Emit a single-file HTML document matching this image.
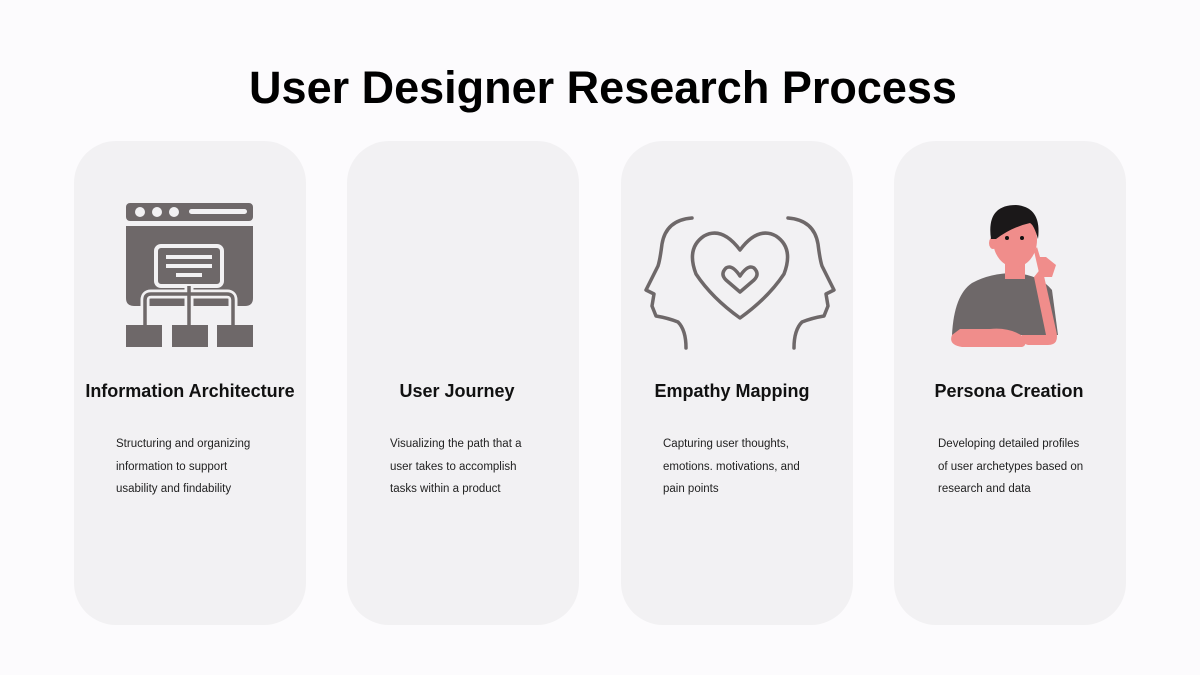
<!DOCTYPE html>
<html><head><meta charset="utf-8"><style>
body{margin:0;width:1200px;height:675px;background:#fcfbfd;font-family:"Liberation Sans",sans-serif;position:relative;overflow:hidden}
h1{position:absolute;top:62px;left:0;width:1206px;text-align:center;margin:0;font-size:45px;font-weight:bold;color:#000;}
.card{position:absolute;top:141px;width:232px;height:484px;background:#f2f1f3;border-radius:42px}
.h{position:absolute;top:381px;width:232px;text-align:center;font-size:18px;font-weight:bold;color:#111}
.t{position:absolute;top:433px;font-size:11.5px;line-height:22.6px;color:#222;white-space:nowrap}
svg{position:absolute}
</style></head><body>
<h1>User Designer Research Process</h1>
<div class="card" style="left:74px"></div>
<div class="card" style="left:347px"></div>
<div class="card" style="left:621px"></div>
<div class="card" style="left:894px"></div>

<svg style="left:110px;top:190px" width="160" height="170" viewBox="0 0 160 170">
<rect x="16" y="13" width="127" height="18" rx="4" fill="#6e6869"/>
<circle cx="30" cy="22" r="5" fill="#f2f1f3"/><circle cx="47" cy="22" r="5" fill="#f2f1f3"/><circle cx="64" cy="22" r="5" fill="#f2f1f3"/>
<rect x="79" y="19" width="58" height="5" rx="2.5" fill="#f2f1f3"/>
<path d="M16 36 H143 V108 Q143 116 135 116 H24 Q16 116 16 108Z" fill="#6e6869"/>
<rect x="46" y="56" width="66" height="40" rx="5" fill="#6e6869" stroke="#f2f1f3" stroke-width="4"/>
<rect x="56" y="65" width="46" height="4" fill="#f2f1f3"/><rect x="56" y="74" width="46" height="4" fill="#f2f1f3"/><rect x="66" y="83" width="26" height="4" fill="#f2f1f3"/>
<path d="M79 96 V135 M35 135 V110 Q35 104 41 104 H117 Q123 104 123 110 V135" stroke="#f2f1f3" stroke-width="9" fill="none"/>
<path d="M79 96 V135 M35 135 V110 Q35 104 41 104 H117 Q123 104 123 110 V135" stroke="#6e6869" stroke-width="3.5" fill="none"/>
<rect x="16" y="135" width="36" height="22" fill="#6e6869"/><rect x="62" y="135" width="36" height="22" fill="#6e6869"/><rect x="107" y="135" width="36" height="22" fill="#6e6869"/>
</svg>

<svg style="left:640px;top:210px" width="200" height="145" viewBox="0 0 200 145" fill="none" stroke="#6e6869" stroke-width="3.5" stroke-linejoin="round" stroke-linecap="round">
<path d="M52 8 Q26 10 22 34 Q20 50 18 56 L6 80 L14 84 L12 96 L16 106 Q28 108 38 112 Q46 120 46 138"/>
<path d="M148 8 Q174 10 178 34 Q180 50 182 56 L194 80 L186 84 L188 96 L184 106 Q172 108 162 112 Q154 120 154 138"/>
<path d="M100 40 Q82 16 64 26 Q46 38 56 64 Q72 88 100 108 Q128 88 144 64 Q154 38 136 26 Q118 16 100 40Z"/>
<path d="M100 66 Q92 54 86 58 Q80 64 86 70 L100 82 L114 70 Q120 64 114 58 Q108 54 100 66Z"/>
</svg>

<svg style="left:930px;top:195px" width="160" height="165" viewBox="0 0 160 165">
<path d="M22 140 Q24 100 42 88 Q60 78 85 78 Q110 80 122 95 L128 140Z" fill="#6e6869"/>
<path d="M112 72 L126 135 Q130 150 118 150 H98 Q90 148 92 140 L116 140 L104 82Z" fill="#f08d8b"/>
<path d="M22 140 Q18 150 32 152 H92 Q98 150 94 142 Q80 132 60 134 H30Z" fill="#f08d8b"/>
<rect x="75" y="60" width="20" height="24" fill="#f08d8b"/>
<ellipse cx="85" cy="45" rx="22" ry="27" fill="#f08d8b"/>
<ellipse cx="63" cy="48" rx="4" ry="6" fill="#f08d8b"/>
<path d="M61 44 Q56 10 86 10 Q112 12 108 44 Q104 30 100 28 Q82 32 66 44Z" fill="#1b1819"/>
<circle cx="77" cy="43" r="2" fill="#111"/><circle cx="92" cy="43" r="2" fill="#111"/>
<path d="M104 56 L110 82 L122 82 L126 70 L116 62 L110 62 L107 52Z" fill="#f08d8b"/>
</svg>

<div class="h" style="left:74px">Information Architecture</div>
<div class="h" style="left:341px">User Journey</div>
<div class="h" style="left:616px">Empathy Mapping</div>
<div class="h" style="left:893px">Persona Creation</div>

<div class="t" style="left:116px">Structuring and organizing<br>information to support<br>usability and findability</div>
<div class="t" style="left:390px">Visualizing the path that a<br>user takes to accomplish<br>tasks within a product</div>
<div class="t" style="left:663px">Capturing user thoughts,<br>emotions. motivations, and<br>pain points</div>
<div class="t" style="left:938px">Developing detailed profiles<br>of user archetypes based on<br>research and data</div>
</body></html>
